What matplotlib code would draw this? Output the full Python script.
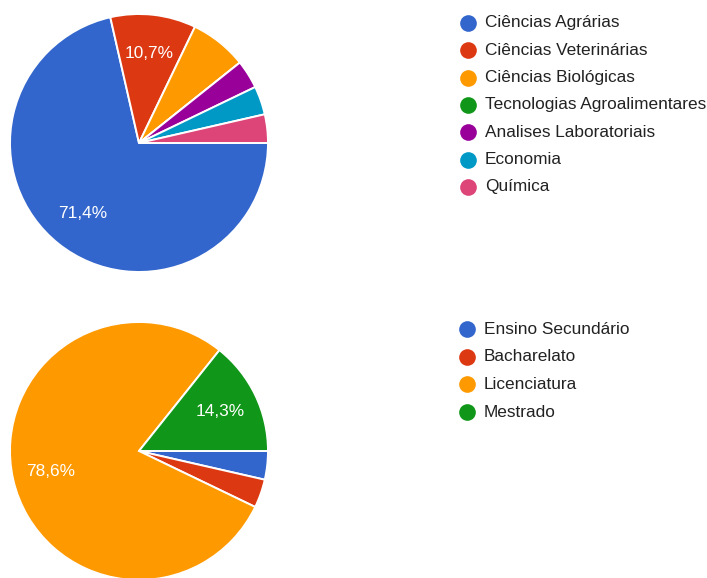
import matplotlib
matplotlib.use("Agg")
import matplotlib.pyplot as plt

# Data
areas = ["Ciências Agrárias", "Ciências Veterinárias", "Ciências Biológicas",
         "Tecnologias Agroalimentares", "Analises Laboratoriais", "Economia", "Química"]
areas_counts = [20, 3, 2, 0, 1, 1, 1]
areas_colors = ["#3366cc", "#dc3912", "#ff9900", "#109618", "#990099", "#0099c6", "#dd4477"]

degrees = ["Ensino Secundário", "Bacharelato", "Licenciatura", "Mestrado"]
degrees_counts = [1, 1, 22, 4]
degrees_colors = ["#3366cc", "#dc3912", "#ff9900", "#109618"]

W, H = 707, 578
plt.rcParams['font.family'] = ['Liberation Sans', 'DejaVu Sans']

fig = plt.figure(figsize=(W / 100, H / 100), dpi=100)
ax = fig.add_axes([0, 0, 1, 1])
ax.set_xlim(0, W)
ax.set_ylim(0, H)
ax.set_aspect('equal')
ax.axis('off')


def pct(p):
    return ("%.1f%%" % p).replace('.', ',') if p >= 10 else ''


def draw_pie(counts, colors, center):
    wedges, texts, autotexts = ax.pie(
        counts, colors=colors, startangle=0, counterclock=False,
        center=center, radius=129, autopct=pct, pctdistance=0.7,
        wedgeprops=dict(edgecolor='white', linewidth=1.4),
        textprops=dict(color='white', fontsize=12.4))
    return wedges


def draw_legend(labels, colors, x, y0, step):
    for i, (lab, col) in enumerate(zip(labels, colors)):
        y = H - (y0 + i * step)
        ax.plot([x], [y], marker='o', markersize=12, color=col, markeredgewidth=0)
        ax.text(x + 17, y, lab, va='center', ha='left', fontsize=12.4, color='#222222')


draw_pie(areas_counts, areas_colors, (139, H - 143))
draw_pie(degrees_counts, degrees_colors, (139, H - 451))
ax.set_xlim(0, W)
ax.set_ylim(0, H)

draw_legend(areas, areas_colors, 468, 23, 27.3)
draw_legend(degrees, degrees_colors, 467, 329, 27.7)

fig.savefig("out.png", dpi=100, facecolor='white')
